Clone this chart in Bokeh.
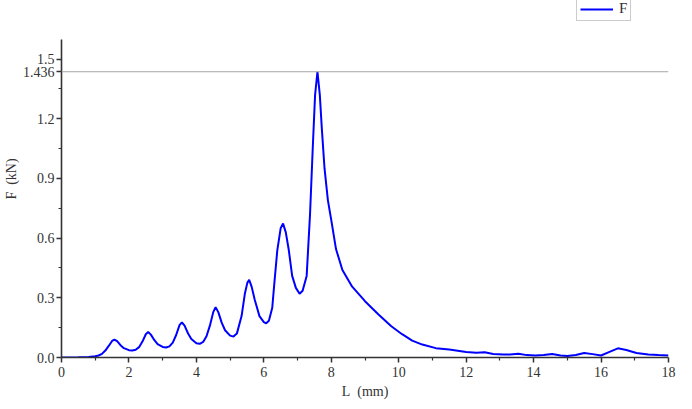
from bokeh.plotting import figure
from bokeh.models import (FixedTicker, Span, Legend, LegendItem, Range1d)
from bokeh.embed import file_html
from bokeh.resources import INLINE

# Data (L in mm, F in kN)
L_mm = [0, 0.5, 0.8, 1.0, 1.1, 1.2, 1.3, 1.4, 1.5, 1.57, 1.65, 1.75, 1.85, 2.0,
        2.1, 2.2, 2.3, 2.4, 2.5, 2.57, 2.65, 2.75, 2.85, 3.0, 3.1, 3.2, 3.3, 3.4,
        3.5, 3.57, 3.65, 3.75, 3.85, 4.0, 4.1, 4.2, 4.3, 4.4, 4.5, 4.57, 4.65,
        4.75, 4.85, 5.0, 5.1, 5.2, 5.34, 5.44, 5.51, 5.565, 5.64, 5.73, 5.87,
        6.0, 6.07, 6.15, 6.25, 6.31, 6.4, 6.5, 6.57, 6.65, 6.74, 6.84, 6.95,
        7.06, 7.15, 7.27, 7.37, 7.45, 7.52, 7.59, 7.66, 7.72, 7.8, 7.9, 8.0,
        8.14, 8.33, 8.62, 9.0, 9.4, 9.78, 10.1, 10.4, 10.7, 11.1, 11.5, 12.0,
        12.3, 12.55, 12.8, 13.1, 13.3, 13.55, 13.8, 14.05, 14.3, 14.55, 14.8,
        15.0, 15.25, 15.5, 15.75, 16.0, 16.25, 16.5, 16.75, 17.05, 17.4, 17.7,
        18.0]
F_kN = [0, 0.001, 0.003, 0.006, 0.01, 0.018, 0.035, 0.058, 0.083, 0.09, 0.082,
        0.062, 0.047, 0.037, 0.035, 0.039, 0.052, 0.08, 0.117, 0.128, 0.115,
        0.088, 0.067, 0.053, 0.05, 0.056, 0.075, 0.113, 0.163, 0.177, 0.16,
        0.122, 0.093, 0.072, 0.069, 0.078, 0.107, 0.16, 0.228, 0.253, 0.228,
        0.175, 0.137, 0.11, 0.105, 0.12, 0.208, 0.323, 0.375, 0.39, 0.355,
        0.29, 0.208, 0.178, 0.172, 0.185, 0.25, 0.37, 0.54, 0.65, 0.673, 0.63,
        0.54, 0.41, 0.35, 0.32, 0.335, 0.41, 0.72, 1.05, 1.32, 1.436, 1.32,
        1.15, 0.95, 0.79, 0.69, 0.545, 0.44, 0.356, 0.283, 0.216, 0.157,
        0.117, 0.085, 0.065, 0.047, 0.04, 0.028, 0.024, 0.026, 0.018, 0.015,
        0.015, 0.019, 0.012, 0.01, 0.012, 0.018, 0.01, 0.007, 0.013, 0.023,
        0.017, 0.01, 0.028, 0.046, 0.038, 0.023, 0.015, 0.012, 0.01]

y_major = [0.0, 0.3, 0.6, 0.9, 1.2, 1.5]
y_minor = [0.15, 0.45, 0.75, 1.05, 1.35]
x_major = [0, 2, 4, 6, 8, 10, 12, 14, 16, 18]
x_minor = [1, 3, 5, 7, 9, 11, 13, 15, 17]
peak_value = 1.436
y_axis_max = 1.6

SERIF = "Liberation Serif"

p = figure(width=676, height=401, output_backend="svg", toolbar_location=None,
           x_range=Range1d(0, 18), y_range=Range1d(0, 1.794),
           min_border_left=54, min_border_right=8, min_border_top=0,
           min_border_bottom=39)
p.outline_line_color = None
p.xgrid.visible = False
p.ygrid.visible = False
p.background_fill_color = "white"
p.border_fill_color = "white"

r = p.line(L_mm, F_kN, line_color="#0000ff", line_width=2)

p.add_layout(Span(location=peak_value, dimension="width",
                  line_color="#a6a6a6", line_width=1))

for ax in (p.xaxis[0], p.yaxis[0]):
    ax.axis_line_color = "#333333"
    ax.axis_line_width = 1.6
    ax.major_tick_line_color = "#333333"
    ax.minor_tick_line_color = "#333333"
    ax.major_tick_line_width = 1.5
    ax.minor_tick_line_width = 1.2
    ax.major_tick_out = 5
    ax.major_tick_in = 0
    ax.minor_tick_out = 3
    ax.minor_tick_in = 0
    ax.major_label_text_font = SERIF
    ax.major_label_text_font_size = "14px"
    ax.major_label_text_color = "#333333"
    ax.axis_label_text_font = SERIF
    ax.axis_label_text_font_size = "14px"
    ax.axis_label_text_font_style = "normal"
    ax.axis_label_text_color = "#333333"

p.yaxis.bounds = (0, y_axis_max)
p.xaxis.bounds = (0, 18)
p.xaxis.ticker = FixedTicker(ticks=x_major, minor_ticks=x_minor)
p.yaxis.ticker = FixedTicker(ticks=y_major + [peak_value], minor_ticks=y_minor)
overrides = {v: f"{v:.1f}" for v in y_major}
overrides[peak_value] = f"{peak_value:.3f}"
p.yaxis.major_label_overrides = overrides
p.xaxis.major_label_standoff = 4
p.yaxis.major_label_standoff = 2
p.xaxis.axis_label = "L\u2002(mm)"
p.yaxis.axis_label = "F\u2002(kN)"
p.xaxis.axis_label_standoff = 4
p.yaxis.axis_label_standoff = 1

legend = Legend(items=[LegendItem(label="F", renderers=[r])],
                location=(515, 336), orientation="vertical",
                label_text_font=SERIF, label_text_font_size="15px",
                label_text_color="#333333",
                border_line_color="#999999", border_line_width=1.5,
                background_fill_color="white", background_fill_alpha=1,
                glyph_width=33, glyph_height=12, label_standoff=6,
                label_width=8, label_height=14,
                padding=3, spacing=0, margin=0)
p.add_layout(legend, "center")

open("out.html", "w").write(file_html(p, INLINE))
